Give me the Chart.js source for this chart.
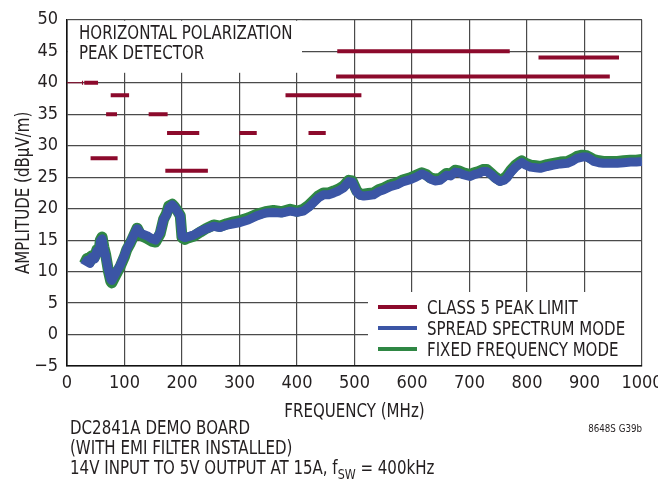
<!DOCTYPE html>
<html>
<head>
<meta charset="utf-8">
<script src="https://cdn.jsdelivr.net/npm/chart.js@4.4.1/dist/chart.umd.min.js"></script>
<style>
  html, body { margin: 0; padding: 0; background: #fff; }
</style>
</head>
<body>
<canvas id="chart" width="658" height="480"></canvas>
<script>
// Radiated EMI, horizontal polarization, peak detector (DC2841A demo board).
const FONT = '"Liberation Sans Narrow", "DejaVu Sans Condensed", sans-serif';
const INK = '#231f20';
const SQUEEZE = 0.88; // the original lettering is narrower than any installed face

// x axis ticks (MHz) and y axis ticks (dBuV/m)
const xTicks = [0, 100, 200, 300, 400, 500, 600, 700, 800, 900, 1000];
const yTicks = [-5, 0, 5, 10, 15, 20, 25, 30, 35, 40, 45, 50];

// CISPR 25 class 5 peak limit bands: start, stop (MHz) and level (dBuV/m)
const limitStart = [0, 26, 30, 41, 68, 76, 142, 171, 174, 300, 380, 420, 468, 470, 820];
const limitStop = [26, 28, 54, 88, 87, 108, 175, 245, 230, 330, 512, 450, 944, 770, 960];
const limitLevel = [40, 40, 40, 28, 35, 38, 35, 26, 32, 32, 38, 32, 41, 45, 44];
const limitWidth = [1.2, 4, 4, 4, 4, 4, 4, 4, 4, 4, 4, 4, 4, 4, 4];

const freqMHz = [30, 35, 40, 43, 48, 52, 56, 58, 61, 64, 67, 72, 76, 78, 84, 93, 100, 104, 110, 116,
  122, 126, 130, 139, 148, 154, 162, 168, 173, 177, 183, 187, 191, 197, 200, 205, 209, 220, 232, 243,
  255, 266, 278, 290, 301, 315, 330, 345, 359, 373, 388, 400, 411, 420, 428, 437, 446, 455, 464, 472,
  481, 490, 496, 504, 510, 516, 524, 533, 542, 551, 562, 574, 585, 597, 607, 617, 625, 632, 640, 649,
  660, 667, 675, 682, 689, 701, 708, 716, 723, 730, 738, 745, 753, 760, 765, 772, 780, 786, 791, 798,
  806, 815, 823, 835, 846, 858, 870, 880, 887, 896, 904, 910, 916, 925, 933, 945, 957, 968, 980, 990, 1000];

const spreadSpectrum = [11.0, 11.8, 11.3, 12.3, 12.0, 13.3, 13.0, 14.8, 15.2, 13.6, 12.6, 10.2, 8.8, 8.6, 9.6, 11.1, 12.6, 13.6, 14.6, 15.8,
  16.8, 16.3, 16.0, 15.7, 15.2, 15.0, 16.2, 18.3, 19.0, 20.1, 20.6, 20.2, 19.7, 18.8, 15.6, 15.4, 15.5, 15.8, 16.4, 16.8,
  17.2, 17.0, 17.4, 17.6, 17.8, 18.2, 18.85, 19.3, 19.4, 19.3, 19.6, 19.4, 19.6, 20.2, 20.9, 21.7, 22.2, 22.2, 22.5, 22.8,
  23.3, 24.3, 24.2, 22.6, 22.1, 22.0, 22.1, 22.2, 22.7, 23.0, 23.5, 23.8, 24.3, 24.6, 25.0, 25.5, 25.2, 24.7, 24.4, 24.5,
  25.3, 25.2, 25.8, 25.7, 25.4, 25.1, 25.4, 25.6, 25.9, 25.9, 25.4, 24.8, 24.3, 24.5, 24.9, 25.8, 26.6, 27.0, 27.3, 26.9,
  26.6, 26.5, 26.4, 26.7, 26.9, 27.1, 27.2, 27.6, 28.0, 28.2, 28.2, 27.9, 27.5, 27.3, 27.2, 27.2, 27.2, 27.3, 27.4, 27.4, 27.5];

const fixedFrequency = [11.2, 12.1, 11.6, 12.5, 12.3, 13.5, 13.2, 15.0, 15.5, 13.9, 12.8, 10.1, 8.5, 8.2, 9.3, 10.9, 12.4, 13.5, 14.5, 15.7,
  16.9, 16.2, 15.7, 15.3, 14.8, 14.7, 16.0, 18.3, 19.2, 20.4, 20.7, 20.3, 19.8, 18.9, 15.4, 15.1, 15.3, 15.6, 16.3, 16.9,
  17.4, 17.2, 17.6, 17.9, 18.1, 18.5, 19.1, 19.5, 19.7, 19.5, 19.9, 19.6, 19.9, 20.5, 21.2, 22.0, 22.5, 22.5, 22.8, 23.1,
  23.6, 24.5, 24.4, 22.8, 22.3, 22.3, 22.4, 22.5, 23.0, 23.3, 23.8, 24.1, 24.6, 24.9, 25.3, 25.7, 25.4, 24.9, 24.7, 24.8,
  25.6, 25.5, 26.1, 26.0, 25.7, 25.4, 25.7, 25.9, 26.2, 26.2, 25.6, 25.0, 24.5, 24.8, 25.2, 26.1, 26.9, 27.3, 27.6, 27.2,
  26.9, 26.8, 26.7, 27.0, 27.2, 27.4, 27.5, 27.9, 28.3, 28.5, 28.4, 28.1, 27.8, 27.6, 27.5, 27.5, 27.5, 27.6, 27.7, 27.7, 27.8];

const legendLabels = ['CLASS 5 PEAK LIMIT', 'SPREAD SPECTRUM MODE', 'FIXED FREQUENCY MODE'];
const legendColors = ['#8c0a2c', '#3b55a5', '#2f8744'];
const titleLines = ['HORIZONTAL POLARIZATION', 'PEAK DETECTOR'];
const noteLines = ['DC2841A DEMO BOARD', '(WITH EMI FILTER INSTALLED)'];
const xTitle = 'FREQUENCY (MHz)';
const yTitle = 'AMPLITUDE (dB\u03bcV/m)';
const figureId = '8648S G39b';

function limitSegments(width) {
  const pts = [];
  limitStart.forEach((s, i) => {
    if (limitWidth[i] !== width) return;
    pts.push({ x: s, y: limitLevel[i] }, { x: limitStop[i], y: limitLevel[i] }, { x: limitStop[i], y: null });
  });
  return pts;
}

const spreadPts = freqMHz.map((f, i) => ({ x: f, y: spreadSpectrum[i] }));
const fixedPts = freqMHz.map((f, i) => ({ x: f, y: fixedFrequency[i] }));

// draws text squeezed horizontally, returns the drawn width
function squeezed(ctx, text, x, y, size, align) {
  ctx.save();
  ctx.font = size + 'px ' + FONT;
  ctx.textAlign = align || 'left';
  ctx.translate(x, y);
  ctx.scale(SQUEEZE, 1);
  ctx.fillText(text, 0, 0);
  const w = ctx.measureText(text).width * SQUEEZE;
  ctx.restore();
  return w;
}

// white boxes behind the title and the legend, then all free text
const overlay = {
  id: 'overlay',
  beforeDatasetsDraw(chart) {
    const { ctx, chartArea: a } = chart;
    ctx.save();
    ctx.fillStyle = '#fff';
    ctx.fillRect(a.left + 1, a.top + 1, 301 - a.left, 52);
    ctx.fillRect(368, 292, a.right - 368 - 1, a.bottom - 292 - 1);
    ctx.restore();
  },
  afterDraw(chart) {
    const { ctx, chartArea: a } = chart;
    ctx.save();
    ctx.fillStyle = INK;
    ctx.textBaseline = 'alphabetic';
    titleLines.forEach((t, i) => squeezed(ctx, t, a.left + 12, 39 + i * 20, 19));

    legendLabels.forEach((t, i) => {
      const y = 307 + i * 21;
      ctx.strokeStyle = legendColors[i];
      ctx.lineWidth = 4;
      ctx.beginPath();
      ctx.moveTo(378, y);
      ctx.lineTo(417, y);
      ctx.stroke();
      squeezed(ctx, t, 427, y + 7, 19);
    });

    squeezed(ctx, xTitle, (a.left + a.right) / 2, 417, 19, 'center');
    ctx.save();
    ctx.translate(29, (a.top + a.bottom) / 2);
    ctx.rotate(-Math.PI / 2);
    squeezed(ctx, yTitle, 0, 0, 19, 'center');
    ctx.restore();

    noteLines.forEach((t, i) => squeezed(ctx, t, 70, 434 + i * 20, 19));
    let x = 70;
    const base = 474;
    x += squeezed(ctx, '14V INPUT TO 5V OUTPUT AT 15A, f', x, base, 19);
    x += squeezed(ctx, 'SW', x, base + 5, 14);
    squeezed(ctx, ' = 400kHz', x, base, 19);

    squeezed(ctx, figureId, a.right, 432, 11, 'right');
    ctx.restore();
  }
};

new Chart(document.getElementById('chart'), {
  type: 'line',
  data: {
    datasets: [
      { label: legendLabels[0], data: limitSegments(4), borderColor: legendColors[0], borderWidth: 4,
        borderCapStyle: 'butt', pointRadius: 0, spanGaps: false, order: 0 },
      { label: legendLabels[0] + ' (thin)', data: limitSegments(1.2), borderColor: legendColors[0], borderWidth: 1.2,
        pointRadius: 0, spanGaps: false, order: 0 },
      { label: legendLabels[1], data: spreadPts, borderColor: legendColors[1], borderWidth: 9,
        borderJoinStyle: 'round', pointRadius: 0, tension: 0, order: 1 },
      { label: legendLabels[2], data: fixedPts, borderColor: legendColors[2], borderWidth: 11,
        borderJoinStyle: 'round', pointRadius: 0, tension: 0, order: 2 }
    ]
  },
  options: {
    responsive: false,
    animation: false,
    events: [],
    layout: { padding: { top: 14, right: 16, bottom: 52, left: 0 } },
    plugins: { legend: { display: false }, tooltip: { enabled: false } },
    scales: {
      x: {
        type: 'linear',
        min: 0,
        max: 1000,
        afterBuildTicks: (s) => { s.ticks = xTicks.map((v) => ({ value: v })); },
        afterFit: (s) => { s.height = 62; s.paddingLeft = 0; s.paddingRight = 0; },
        ticks: { color: INK, font: { family: FONT, size: 18 }, padding: 7, maxRotation: 0, autoSkip: false,
          callback: (v) => String(v) },
        grid: { color: '#4a4a4a', lineWidth: 1.2, drawTicks: false },
        border: { color: '#111', width: 1.6 }
      },
      y: {
        min: -5,
        max: 50,
        afterBuildTicks: (s) => { s.ticks = yTicks.map((v) => ({ value: v })); },
        afterFit: (s) => { s.width = 67; },
        ticks: { color: INK, font: { family: FONT, size: 18 }, padding: 9,
          callback: (v) => (v < 0 ? '\u2212' + Math.abs(v) : String(v)) },
        grid: { color: '#4a4a4a', lineWidth: 1.2, drawTicks: false },
        border: { color: '#111', width: 1.6 }
      }
    }
  },
  plugins: [overlay]
});
</script>
</body>
</html>
